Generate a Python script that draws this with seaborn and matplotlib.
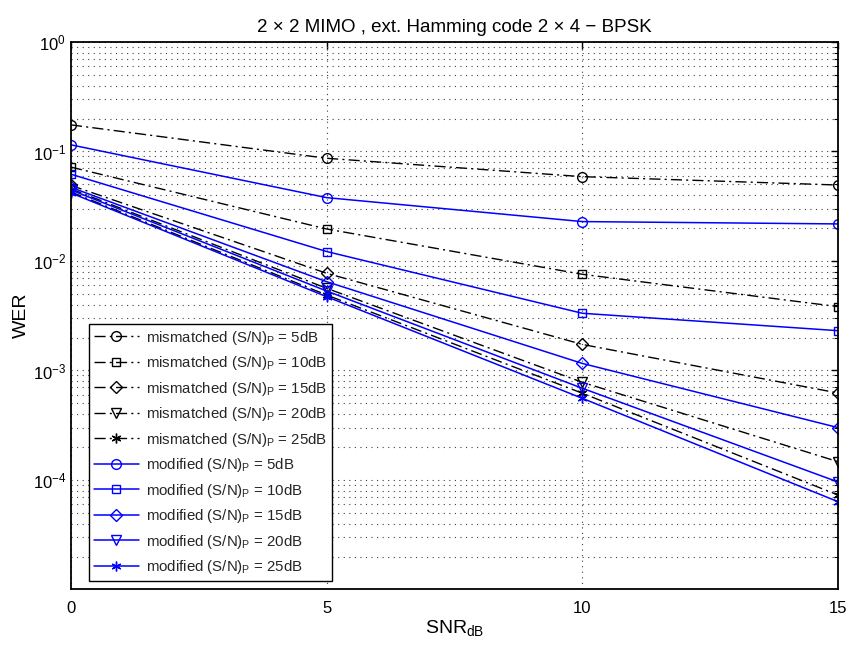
import numpy as np
import pandas as pd
import matplotlib
matplotlib.use("Agg")
import matplotlib.pyplot as plt
import seaborn as sns
from matplotlib.ticker import LogLocator, FixedLocator, NullFormatter, FixedFormatter

sns.set_theme(style="white")
plt.rcParams['font.family'] = ['Liberation Sans', 'DejaVu Sans']
plt.rcParams['mathtext.fontset'] = 'custom'
plt.rcParams['mathtext.rm'] = 'Liberation Sans'
plt.rcParams['mathtext.it'] = 'Liberation Sans:italic'
plt.rcParams['mathtext.default'] = 'regular'

snr = [0, 5, 10, 15]
pn_levels = ["5dB", "10dB", "15dB", "20dB", "25dB"]

mismatched_5 = [0.175, 0.0867, 0.0589, 0.0494]
mismatched_10 = [0.072, 0.0196, 0.00756, 0.00383]
mismatched_15 = [0.049, 0.00772, 0.00173, 0.000623]
mismatched_20 = [0.0455, 0.00563, 0.00078, 0.000147]
mismatched_25 = [0.0427, 0.00489, 0.00062, 0.0000729]

modified_5 = [0.115, 0.0379, 0.0229, 0.0218]
modified_10 = [0.062, 0.0122, 0.00333, 0.00231]
modified_15 = [0.047, 0.00647, 0.00116, 0.000301]
modified_20 = [0.0445, 0.00532, 0.000688, 0.0000959]
modified_25 = [0.0418, 0.00472, 0.000557, 0.0000634]

ytick_vals = [1e-4, 1e-3, 1e-2, 1e-1, 1]
ytick_labels = ["$10^{-4}$", "$10^{-3}$", "$10^{-2}$", "$10^{-1}$", "$10^{0}$"]

mismatched = [mismatched_5, mismatched_10, mismatched_15, mismatched_20, mismatched_25]
modified = [modified_5, modified_10, modified_15, modified_20, modified_25]
markers = ['o', 's', 'D', 'v', (6, 2, 0)]
msizes = [7, 6, 6, 7, 7]

fig = plt.figure(figsize=(8.51, 6.51), dpi=100)
ax = fig.add_axes([0.0834, 0.0945, 0.9013, 0.841])

for vals, lvl, mk, ms in zip(mismatched, pn_levels, markers, msizes):
    sns.lineplot(x=snr, y=vals, ax=ax, color='black', lw=1.0,
                 marker=mk, markersize=ms, markerfacecolor='none',
                 markeredgecolor='black', markeredgewidth=1.0,
                 label=f"mismatched (S/N)$_{{P}}$ = {lvl}",
                 dashes=(8, 3, 1.5, 3))
for vals, lvl, mk, ms in zip(modified, pn_levels, markers, msizes):
    sns.lineplot(x=snr, y=vals, ax=ax, color='#0000ff', linestyle='-', lw=1.1,
                 marker=mk, markersize=ms, markerfacecolor='none',
                 markeredgecolor='#0000ff', markeredgewidth=1.0,
                 label=f"modified (S/N)$_{{P}}$ = {lvl}")

ax.set_yscale('log')
ax.set_xlim(0, 15)
ax.set_ylim(1e-5, 1)
ax.xaxis.set_major_locator(FixedLocator([0, 5, 10, 15]))
ax.yaxis.set_major_locator(FixedLocator(ytick_vals))
ax.yaxis.set_major_formatter(FixedFormatter(ytick_labels))
ax.yaxis.set_minor_locator(LogLocator(base=10, subs=np.arange(2, 10), numticks=20))
ax.yaxis.set_minor_formatter(NullFormatter())

grid_ls = (0, (1, 4))
ax.grid(True, which='major', linestyle=grid_ls, color='0.25', lw=0.8)
ax.grid(True, which='minor', axis='y', linestyle=grid_ls, color='0.25', lw=0.8)
ax.tick_params(which='both', direction='in', top=True, right=True, labelsize=12, colors='black')
ax.tick_params(which='major', length=5, width=1)
ax.tick_params(which='minor', length=3, width=0.8)
ax.tick_params(axis='x', pad=8)
for s in ax.spines.values():
    s.set_color('black')
    s.set_linewidth(1.3)

ax.set_title("2 × 2 MIMO , ext. Hamming code 2 × 4 − BPSK", fontsize=13.5, color='black', pad=7)
ax.set_xlabel("SNR$_{dB}$", fontsize=14, color='black', labelpad=2)
ax.set_ylabel("WER", fontsize=14, color='black')
ax.yaxis.set_label_coords(-0.053, 0.5)

leg = ax.legend(loc='lower left', bbox_to_anchor=(0.024, 0.016), fontsize=10.8,
                frameon=True, fancybox=False, edgecolor='black', framealpha=1,
                handlelength=3.0, labelspacing=0.5, borderpad=0.3, handletextpad=0.5,
                borderaxespad=0)
leg.get_frame().set_linewidth(1.0)

fig.savefig("out.png", dpi=100)
